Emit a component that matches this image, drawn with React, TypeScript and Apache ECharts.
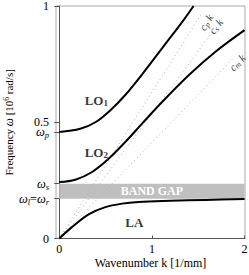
import React, { useEffect, useRef } from 'react';
import * as echarts from 'echarts';

// Dispersion branches (k in 1/mm, ω in 10^6 rad/s)
const laCurve: number[][] = [
  [0, 0], [0.137, 0.049], [0.317, 0.104], [0.49, 0.134], [0.678, 0.15],
  [0.857, 0.157], [1.2, 0.162], [1.578, 0.166], [2.0, 0.17],
];
const lo2Curve: number[][] = [
  [0, 0.243], [0.173, 0.253], [0.35, 0.285], [0.53, 0.342], [0.71, 0.414],
  [0.894, 0.494], [1.11, 0.587], [1.4, 0.703], [1.686, 0.803], [2.0, 0.896],
];
const lo1Curve: number[][] = [
  [0, 0.458], [0.227, 0.472], [0.39, 0.5], [0.55, 0.551], [0.71, 0.616],
  [0.93, 0.724], [1.146, 0.837], [1.33, 0.933], [1.45, 1.0],
];
// Sound-speed lines c·k (start and end points)
const cpLine: number[][] = [[0, 0], [1.55, 0.975]];
const csLine: number[][] = [[0, 0], [1.665, 0.895]];
const cmLine: number[][] = [[0, 0], [1.885, 0.778]];
// Band gap between ω_l=ω_r and ω_s
const bandGapOmega = [0.171, 0.236];
const bandGapK = [0, 2.0];
// Axis ticks
const yTickValues = [0, 0.171, 0.236, 0.458, 0.5, 1];
const yTickLabels = [
  '{n|0}',
  '{w|ω}{s|l}{n|=}{w|ω}{s|r}',
  '{w|ω}{s|s}',
  '{w|ω}{s|p}',
  '{n|0.5}',
  '{n|1}',
];
const xTickValues = [0, 1, 2];
// Curve labels
const curveLabelNames = ['LO1', 'LO2', 'LA'];
const curveLabelText = ['{b|LO}{bs|1}', '{b|LO}{bs|2}', '{b|LA}'];
const curveLabelPos: number[][] = [[0.4, 0.594], [0.4, 0.371], [0.81, 0.069]];
// Speed-line labels
const speedLabelText = ['{c|c}{cs|p}{c| k}', '{c|c}{cs|s}{c| k}', '{c|c}{cs|m}{c| k}'];
const speedLabelPos: number[][] = [[1.585, 0.93], [1.69, 0.912], [1.92, 0.757]];
const speedLabelAngle = [58, 53, 46];

const SERIF = '"Liberation Serif", "DejaVu Serif", serif';

export default function App() {
  const ref = useRef<HTMLDivElement>(null);
  useEffect(() => {
    if (!ref.current) return;
    const chart = echarts.init(ref.current, undefined, { renderer: 'svg' });
    const dotted = (data: number[][]) => ({
      type: 'line',
      data,
      showSymbol: false,
      silent: true,
      lineStyle: { color: '#b0b0b0', width: 1, type: [1, 3] },
      z: 1,
    });
    const solid = (data: number[][], extra: any = {}) => ({
      type: 'line',
      data,
      smooth: 0.35,
      showSymbol: false,
      silent: true,
      lineStyle: { color: '#000', width: 2 },
      z: 3,
      ...extra,
    });
    chart.setOption({
      animation: false,
      grid: { left: 56, top: 6, width: 189, height: 232.5, show: true, borderColor: '#aaa', borderWidth: 1, outerBoundsMode: 'none' },
      xAxis: {
        type: 'value',
        min: -0.035,
        max: 2.005,
        name: 'Wavenumber k [1/mm]',
        nameLocation: 'middle',
        nameGap: 18,
        nameMoveOverlap: false,
        nameTextStyle: { fontFamily: SERIF, fontSize: 12, color: '#000' },
        axisLine: { show: true, lineStyle: { color: '#555', width: 1 } },
        axisTick: { show: true, inside: true, length: 3, customValues: xTickValues, lineStyle: { color: '#555' } },
        axisLabel: { customValues: xTickValues, margin: 4, fontFamily: SERIF, fontSize: 12, color: '#000' },
        splitLine: { show: false },
      },
      yAxis: {
        type: 'value',
        min: 0,
        max: 1,
        name: '{t|Frequency }{w|ω}{t| [10}{sup|6}{t| rad/s]}',
        nameLocation: 'middle',
        nameGap: 40,
        nameRotate: 90,
        nameMoveOverlap: false,
        nameTextStyle: {
          fontFamily: SERIF,
          color: '#000',
          rich: {
            t: { fontFamily: SERIF, fontSize: 11, color: '#000' },
            w: { fontFamily: SERIF, fontSize: 11.5, fontStyle: 'italic', color: '#000' },
            sup: { fontFamily: SERIF, fontSize: 7.5, color: '#000', padding: [0, 0, 6, 0] },
          },
        },
        axisLine: { show: true, lineStyle: { color: '#555', width: 1 } },
        axisTick: { show: true, inside: false, length: 5, customValues: yTickValues, lineStyle: { color: '#555' } },
        axisLabel: {
          customValues: yTickValues,
          margin: 7,
          hideOverlap: false,
          formatter: (v: number) => {
            const i = yTickValues.findIndex((t) => Math.abs(t - v) < 1e-6);
            return i >= 0 ? yTickLabels[i] : '';
          },
          rich: {
            n: { fontFamily: SERIF, fontSize: 12, color: '#000' },
            w: { fontFamily: SERIF, fontSize: 12.5, fontStyle: 'italic', color: '#000' },
            s: { fontFamily: SERIF, fontSize: 8.5, fontStyle: 'italic', color: '#000', padding: [6, 0, 0, 0] },
          },
        },
        splitLine: { show: false },
      },
      series: [
        dotted(cpLine),
        dotted(csLine),
        dotted(cmLine),
        solid(laCurve, {
          markArea: {
            silent: true,
            itemStyle: { color: '#bfbfbf' },
            label: {
              show: true,
              position: 'inside',
              color: '#fff',
              fontFamily: SERIF,
              fontWeight: 'bold',
              fontSize: 12,
            },
            data: [[
              { name: 'BAND GAP', xAxis: bandGapK[0], yAxis: bandGapOmega[0] },
              { xAxis: bandGapK[1], yAxis: bandGapOmega[1] },
            ]],
          },
        }),
        solid(lo2Curve),
        solid(lo1Curve),
        {
          type: 'scatter',
          silent: true,
          symbolSize: 1,
          itemStyle: { color: 'rgba(0,0,0,0)' },
          z: 5,
          data: curveLabelPos.map((p, i) => ({ value: p, name: curveLabelNames[i] })),
          label: {
            show: true,
            position: 'inside',
            formatter: (p: any) => curveLabelText[p.dataIndex],
            rich: {
              b: { fontFamily: SERIF, fontSize: 13, fontWeight: 'bold', color: '#000' },
              bs: { fontFamily: SERIF, fontSize: 9, fontWeight: 'bold', color: '#000', padding: [6, 0, 0, 0] },
            },
          },
        },
        {
          type: 'scatter',
          silent: true,
          symbolSize: 1,
          itemStyle: { color: 'rgba(0,0,0,0)' },
          z: 5,
          data: speedLabelPos.map((p, i) => ({
            value: p,
            label: { rotate: speedLabelAngle[i] },
          })),
          label: {
            show: true,
            position: 'inside',
            formatter: (p: any) => speedLabelText[p.dataIndex],
            rich: {
              c: { fontFamily: SERIF, fontSize: 11, fontStyle: 'italic', color: '#000' },
              cs: { fontFamily: SERIF, fontSize: 8, fontStyle: 'italic', color: '#000', padding: [5, 0, 0, 0] },
            },
          },
        },
      ],
    });
    return () => chart.dispose();
  }, []);
  return (
    <div
      ref={ref}
      style={{ position: 'fixed', left: 0, top: 0, width: 249, height: 275, background: '#fff' }}
    />
  );
}
